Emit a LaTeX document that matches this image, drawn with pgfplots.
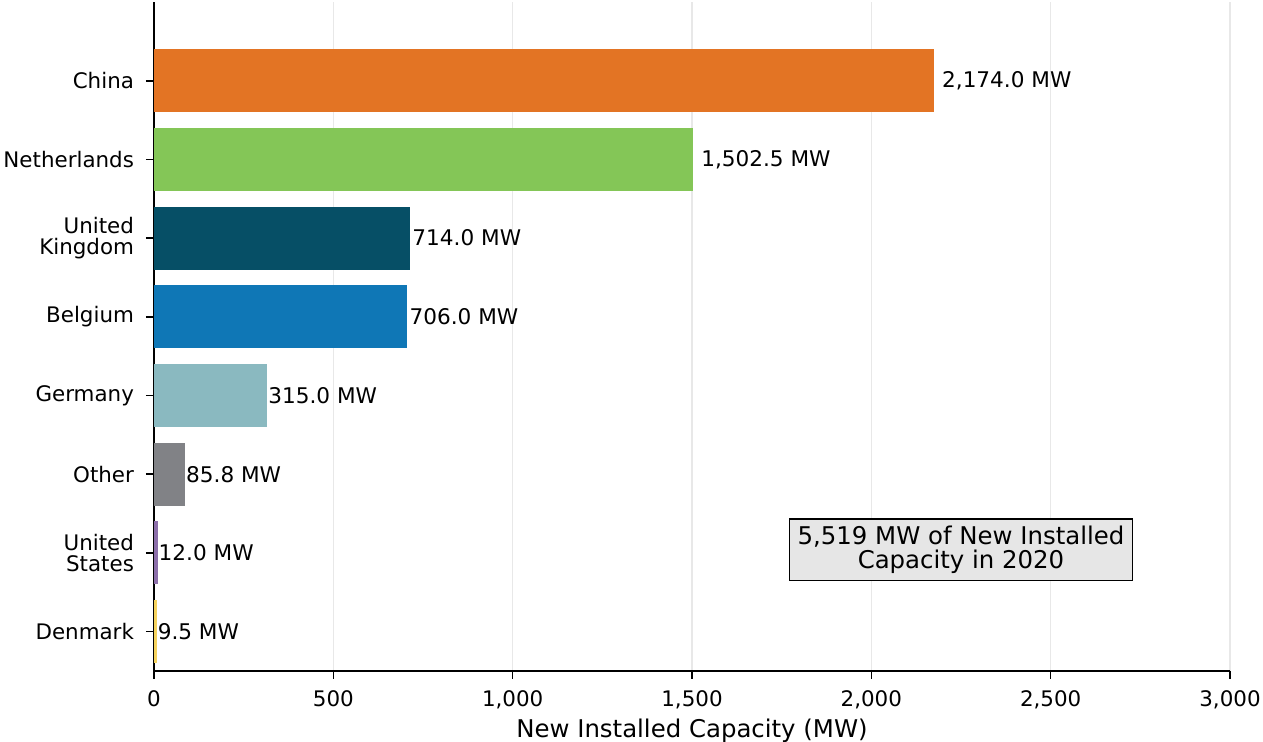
\documentclass[border=0pt]{standalone}
\usepackage{pgfplots}
\pgfplotsset{compat=1.18}
\usepackage{fontspec}
\setmainfont{DejaVu Sans}
\definecolor{cChina}{HTML}{E37424}
\definecolor{cNeth}{HTML}{84C657}
\definecolor{cUK}{HTML}{064F66}
\definecolor{cBel}{HTML}{0F77B6}
\definecolor{cGer}{HTML}{8AB9C0}
\definecolor{cOth}{HTML}{818286}
\definecolor{cUS}{HTML}{8C6FAA}
\definecolor{cDen}{HTML}{F6D35E}
\definecolor{gridc}{HTML}{E8E8E8}
\definecolor{boxc}{HTML}{E6E6E6}
\begin{document}
\begin{tikzpicture}
\path[use as bounding box] (-77pt,-35.5pt) rectangle (554.5pt,335.5pt);
\begin{axis}[
  at={(0,0)}, anchor=south west,
  scale only axis, width=538pt, height=334.5pt,
  xbar, bar width=0.8, bar shift=0pt,
  xmin=0, xmax=3000, ymin=-0.5, ymax=8,
  axis x line*=bottom, axis y line*=left,
  axis line style={line width=0.8pt},
  xtick={0,500,...,3000},
  ytick={0,1,2,3,4,5,6,7},
  yticklabels={Denmark,{United\\States},Other,Germany,Belgium,{United\\Kingdom},Netherlands,China},
  yticklabel style={align=right, font=\fontsize{10.7}{10.5}\selectfont, xshift=-2.5pt},
  xticklabel style={font=\fontsize{10.7}{11}\selectfont, yshift=-2.5pt},
  tick align=outside, major tick length=4pt,
  tick style={line width=0.8pt, black},
  xmajorgrids, grid style={gridc, line width=0.6pt},
  /pgf/number format/assume math mode=true,
  /pgf/number format/1000 sep={,},
  xlabel={New Installed Capacity (MW)},
  xlabel style={font=\fontsize{12.2}{13}\selectfont, yshift=2pt},
  nodes near coords={\pgfmathprintnumber[fixed,fixed zerofill,precision=1,1000 sep={,}]{\pgfplotspointmeta}~MW},
  point meta=x,
  nodes near coords style={font=\fontsize{10.8}{11}\selectfont, anchor=west, inner sep=1pt},
  every axis plot/.append style={draw=none},
  clip=false,
]
\addplot[fill=cChina, nodes near coords style={xshift=3pt}] coordinates {(2174.0,7)};
\addplot[fill=cNeth, nodes near coords style={xshift=3pt}] coordinates {(1502.5,6)};
\addplot[fill=cUK, nodes near coords style={xshift=0pt}] coordinates {(714.0,5)};
\addplot[fill=cBel, nodes near coords style={xshift=0pt}] coordinates {(706.0,4)};
\addplot[fill=cGer, nodes near coords style={xshift=-0.5pt}] coordinates {(315.0,3)};
\addplot[fill=cOth, nodes near coords style={xshift=-0.5pt}] coordinates {(85.8,2)};
\addplot[fill=cUS, nodes near coords style={xshift=-1pt}] coordinates {(12.0,1)};
\addplot[fill=cDen, nodes near coords style={xshift=-1pt}] coordinates {(9.5,0)};
\node[draw=black, fill=boxc, line width=0.8pt, align=center, font=\fontsize{12.2}{12}\selectfont, inner xsep=4pt, inner ysep=3.5pt]
  at (axis cs:2250,1.04) {5,519 MW of New Installed\\Capacity in 2020};
\end{axis}
\end{tikzpicture}
\end{document}
